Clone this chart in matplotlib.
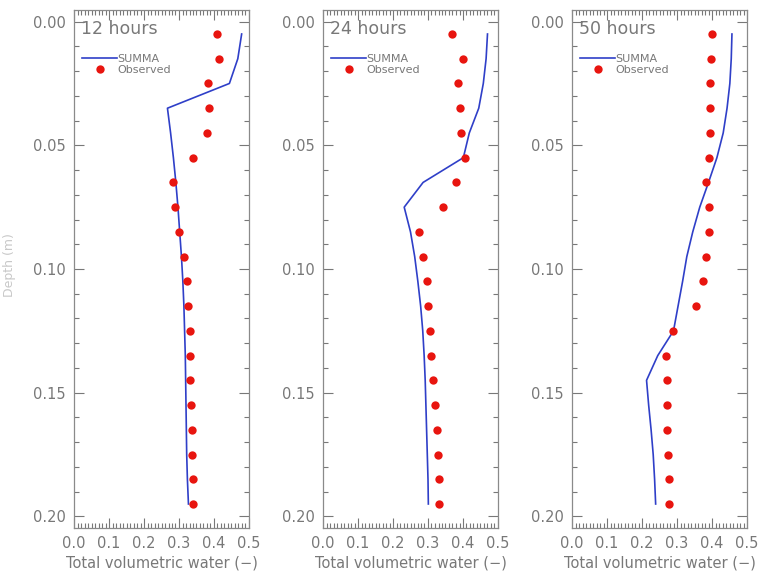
import numpy as np
import matplotlib.pyplot as plt
from matplotlib.ticker import MultipleLocator

plt.rcParams["font.family"] = "DejaVu Sans"

# depths of observations / model layers (m)
depth = [0.005, 0.015, 0.025, 0.035, 0.045, 0.055, 0.065, 0.075, 0.085, 0.095,
         0.105, 0.115, 0.125, 0.135, 0.145, 0.155, 0.165, 0.175, 0.185, 0.195]

titles = ["12 hours", "24 hours", "50 hours"]

obs_12 = [0.410, 0.415, 0.384, 0.386, 0.381, 0.339, 0.283, 0.290, 0.301, 0.314,
          0.322, 0.325, 0.331, 0.331, 0.332, 0.334, 0.337, 0.338, 0.339, 0.340]
summa_12 = [0.479, 0.468, 0.444, 0.267, 0.276, 0.284, 0.291, 0.297, 0.302, 0.307,
            0.311, 0.314, 0.316, 0.318, 0.319, 0.320, 0.321, 0.322, 0.324, 0.327]

obs_24 = [0.369, 0.401, 0.387, 0.390, 0.394, 0.406, 0.380, 0.342, 0.275, 0.285,
          0.296, 0.301, 0.306, 0.310, 0.315, 0.320, 0.327, 0.329, 0.330, 0.331]
summa_24 = [0.470, 0.466, 0.458, 0.445, 0.418, 0.401, 0.286, 0.232, 0.250, 0.262,
            0.271, 0.279, 0.285, 0.289, 0.292, 0.294, 0.296, 0.298, 0.300, 0.301]

obs_50 = [0.401, 0.397, 0.395, 0.395, 0.395, 0.391, 0.383, 0.390, 0.390, 0.383,
          0.375, 0.354, 0.288, 0.269, 0.270, 0.271, 0.272, 0.274, 0.276, 0.278]
summa_50 = [0.457, 0.455, 0.451, 0.443, 0.432, 0.414, 0.390, 0.365, 0.345, 0.328,
            0.316, 0.303, 0.290, 0.245, 0.213, 0.219, 0.226, 0.232, 0.236, 0.239]

obs = [obs_12, obs_24, obs_50]
summa = [summa_12, summa_24, summa_50]

grey = "#787878"
fig = plt.figure(figsize=(7.72, 5.76), dpi=100)
lefts = [74, 323, 572]

for i in range(3):
    ax = fig.add_axes([lefts[i] / 772, 1 - 528 / 576, 175 / 772, 518 / 576])
    ax.plot(summa[i], depth, color="#2f3fc8", lw=1.2, label="SUMMA")
    ax.plot(obs[i], depth, "o", color="#e8150f", ms=6, mec="none", label="Observed")
    ax.set_xlim(0, 0.5)
    ax.set_ylim(0.2047, -0.0047)
    ax.xaxis.set_major_locator(MultipleLocator(0.1))
    ax.xaxis.set_minor_locator(MultipleLocator(0.01))
    ax.yaxis.set_major_locator(MultipleLocator(0.05))
    ax.yaxis.set_minor_locator(MultipleLocator(0.01))
    ax.xaxis.set_major_formatter(lambda v, p: f"{v:.1f}")
    ax.yaxis.set_major_formatter(lambda v, p: f"{v:.2f}")
    ax.tick_params(which="both", direction="in", top=True, right=True,
                   colors=grey, labelsize=10.5, width=0.8)
    ax.tick_params(which="major", length=7, pad=6)
    ax.tick_params(which="minor", length=3.5)
    for s in ax.spines.values():
        s.set_color("#8a8a8a")
        s.set_linewidth(0.9)
    ax.set_xlabel("Total volumetric water (\u2212)", color=grey, fontsize=10.5, labelpad=3)
    ax.text(0.04, 0.98, titles[i], transform=ax.transAxes, ha="left", va="top",
            color=grey, fontsize=12.5)
    leg = ax.legend(loc="upper left", bbox_to_anchor=(0.0, 0.93), frameon=False,
                    fontsize=8, handlelength=3.2, handletextpad=0.0,
                    labelspacing=0.05, borderaxespad=0.3)
    for t in leg.get_texts():
        t.set_color(grey)

fig.text(0.012, 0.54, "Depth (m)", rotation=90, ha="center", va="center",
         color="#c8c8c8", fontsize=9)

fig.savefig("out.png", dpi=100)
